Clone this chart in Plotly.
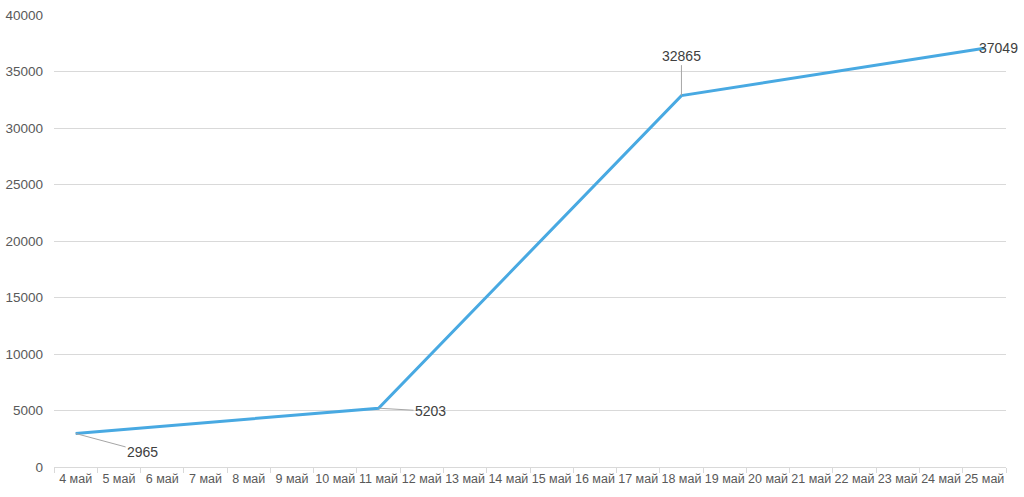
import plotly.graph_objects as go

categories = [f"{d} май" for d in range(4, 26)]
point_days = ["4 май", "11 май", "18 май", "25 май"]
point_values = [2965, 5203, 32865, 37049]

values = [None] * len(categories)
for d, v in zip(point_days, point_values):
    values[categories.index(d)] = v

fig = go.Figure()
fig.add_trace(go.Scatter(
    x=categories, y=values, mode="lines", connectgaps=True,
    line=dict(color="#48a9e2", width=3), hoverinfo="x+y", showlegend=False,
))

offsets = [(67, 18), (52, 3), (0, -40), (None, None)]
for d, v, (ax, ay) in zip(point_days, point_values, offsets):
    if ax is None:
        fig.add_annotation(x=d, y=v, text=str(v), showarrow=False, xshift=14,
                           font=dict(size=14, color="#404040"))
    else:
        fig.add_annotation(x=d, y=v, text=str(v), showarrow=True, arrowhead=0,
                           arrowwidth=1, arrowcolor="#a6a6a6", ax=ax, ay=ay,
                           font=dict(size=14, color="#404040"))

fig.update_layout(
    width=1024, height=497, autosize=False,
    margin=dict(l=54, r=18, t=15, b=30, pad=0),
    paper_bgcolor="white", plot_bgcolor="white",
    font=dict(family="Liberation Sans, Arial, sans-serif", size=12, color="#595959"),
    xaxis=dict(type="category", categoryorder="array", categoryarray=categories,
               range=[-0.5, len(categories) - 0.5],
               showgrid=False, showline=True, linecolor="#d9d9d9", linewidth=1,
               ticks="outside", tickson="boundaries", ticklen=5, tickcolor="#d9d9d9",
               tickangle=0, automargin=False,
               tickfont=dict(size=12.5, color="#595959"), fixedrange=True),
    yaxis=dict(range=[0, 40000], dtick=5000, tickformat="d", showgrid=True,
               gridcolor="#d9d9d9", automargin=False,
               gridwidth=1, zeroline=False, showline=False, ticks="",
               tickfont=dict(size=13.5, color="#595959"), ticklabelstandoff=10),
)

fig.write_html("out.html", config={"responsive": False, "displayModeBar": False},
               post_script="document.body.style.margin='0';document.body.style.overflow='hidden';")
